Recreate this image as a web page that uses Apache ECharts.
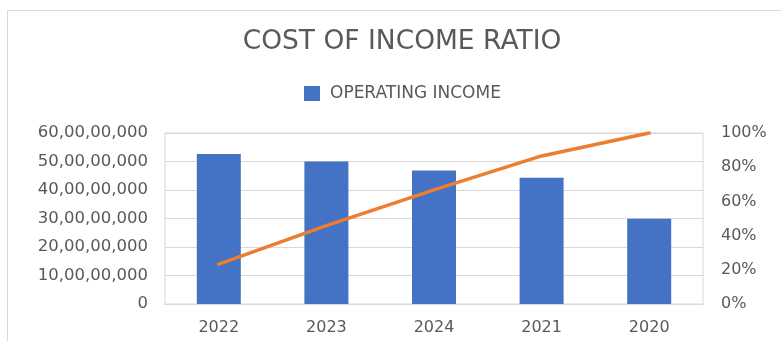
<!DOCTYPE html>
<html><head><meta charset="utf-8">
<script src="https://cdn.jsdelivr.net/npm/echarts@6/dist/echarts.min.js"></script>
<style>html,body{margin:0;padding:0;background:#fff}#c{width:781px;height:341px}</style>
</head><body><div id="c"></div>
<script>
const categories = ['2022', '2023', '2024', '2021', '2020'];
const operatingIncome = [526000000, 500000000, 468000000, 443000000, 299000000];
const ratioPct = [23.3, 45.8, 66.7, 86.6, 100];
const leftTicks = { min: 0, max: 600000000, interval: 100000000 };
const rightTicks = { min: 0, max: 100, interval: 20 };

function indian(v) {
  const s = String(Math.round(v));
  if (s.length <= 3) return s;
  const last3 = s.slice(-3);
  let rest = s.slice(0, -3);
  const parts = [];
  while (rest.length > 2) { parts.unshift(rest.slice(-2)); rest = rest.slice(0, -2); }
  if (rest) parts.unshift(rest);
  return parts.join(',') + ',' + last3;
}

const font = '"DejaVu Sans", sans-serif';
const txt = '#595959';
const chart = echarts.init(document.getElementById('c'), null, { renderer: 'canvas' });
chart.setOption({
  animation: false,
  graphic: [{ type: 'rect', shape: { x: 7.5, y: 10.5, width: 800, height: 400 }, style: { fill: 'none', stroke: '#d9d9d9', lineWidth: 1 }, silent: true }],
  title: { text: 'COST OF INCOME RATIO', left: 402, top: 29, textAlign: 'center', padding: 0,
    textStyle: { fontFamily: font, fontSize: 26.5, fontWeight: 'normal', color: txt } },
  legend: { data: ['OPERATING INCOME'], left: 304, top: 85, padding: 0, itemWidth: 16, itemHeight: 15, itemGap: 8,
    icon: 'rect', textStyle: { fontFamily: font, fontSize: 17, color: txt, padding: [0, 0, 0, 5] } },
  grid: { left: 165, right: 78, top: 133, bottom: 37, show: true, borderColor: '#d9d9d9', borderWidth: 1 },
  xAxis: { type: 'category', data: categories,
    axisLine: { show: true, lineStyle: { color: '#d9d9d9' } }, axisTick: { show: false },
    axisLabel: { fontFamily: font, fontSize: 16, color: txt, margin: 16 } },
  yAxis: [
    { type: 'value', min: leftTicks.min, max: leftTicks.max, interval: leftTicks.interval,
      axisLine: { show: false }, axisTick: { show: false },
      splitLine: { lineStyle: { color: '#d9d9d9' } },
      axisLabel: { fontFamily: font, fontSize: 16.5, color: txt, margin: 17, formatter: v => indian(v) } },
    { type: 'value', min: rightTicks.min, max: rightTicks.max, interval: rightTicks.interval, position: 'right',
      axisLine: { show: false }, axisTick: { show: false }, splitLine: { show: false },
      axisLabel: { fontFamily: font, fontSize: 16, color: txt, margin: 18, formatter: v => v + '%' } }
  ],
  series: [
    { name: 'OPERATING INCOME', type: 'bar', data: operatingIncome, barWidth: 44, itemStyle: { color: '#4472C4' } },
    { name: 'COST OF INCOME RATIO', type: 'line', yAxisIndex: 1, data: ratioPct, symbol: 'none',
      lineStyle: { color: '#ED7D31', width: 3.5, cap: 'round' }, itemStyle: { color: '#ED7D31' } }
  ]
});
</script></body></html>
